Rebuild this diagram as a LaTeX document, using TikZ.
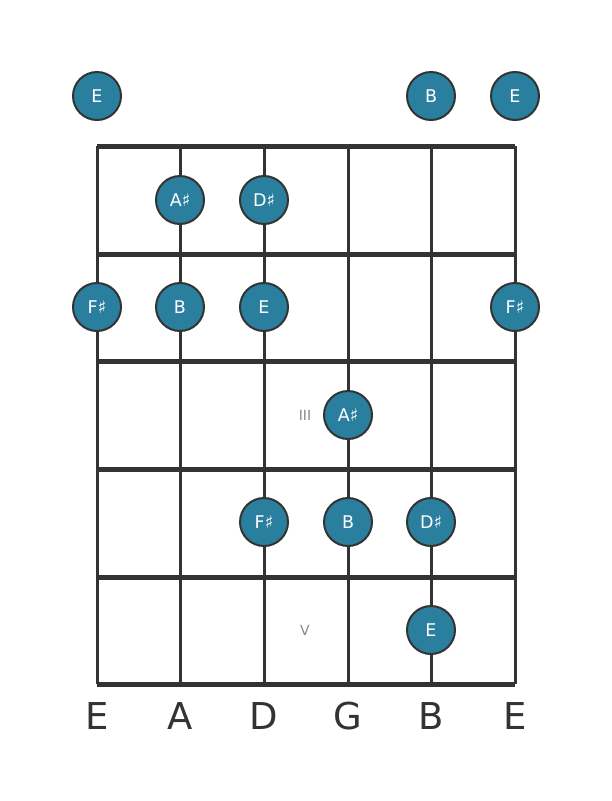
\documentclass[tikz,border=0pt]{standalone}
\usepackage{fontspec}
\setmainfont{DejaVu Sans}
\definecolor{notefill}{HTML}{2B7F9E}
\definecolor{ink}{HTML}{333333}
\definecolor{mark}{HTML}{888888}
\begin{document}
\begin{tikzpicture}[x=1pt,y=-1pt,
  stringline/.style={draw=ink,line width=3pt},
  fretline/.style={draw=ink,line width=5pt,line cap=square},
  note/.style={circle,fill=notefill,draw=ink,line width=2pt,minimum size=48pt,inner sep=0pt,text=white,font=\fontsize{17.5}{17.5}\selectfont},
  marker/.style={text=mark,font=\fontsize{14}{14}\selectfont},
  strname/.style={text=ink,font=\fontsize{37}{37}\selectfont}]
\useasboundingbox (0,0) rectangle (611,801);
% strings
\foreach \x/\n in {97/1,180/2,264/3,348/4,431/5,515/6}{
  \coordinate (t\n) at (\x,146);
  \coordinate (b\n) at (\x,684);
  \draw[stringline] (t\n) -- (b\n);
}
% frets
\foreach \y/\n in {146/0,254/1,361/2,469/3,577/4,684/5}{
  \coordinate (fl\n) at (97,\y);
  \coordinate (fr\n) at (515,\y);
  \draw[fretline] (fl\n) -- (fr\n);
}
% open notes
\node[note] (o1) at (97,96) {E};
\node[note] (o5) at (431,96) {B};
\node[note] (o6) at (515,96) {E};
% fret 1
\node[note] (n12) at (180,200) {A♯};
\node[note] (n13) at (264,200) {D♯};
% fret 2
\node[note] (n21) at (97,307) {F♯};
\node[note] (n22) at (180,307) {B};
\node[note] (n23) at (264,307) {E};
\node[note] (n26) at (515,307) {F♯};
% fret 3
\node[note] (n34) at (348,415) {A♯};
\node[marker] (m3) at (305,415) {III};
% fret 4
\node[note] (n43) at (264,522) {F♯};
\node[note] (n44) at (348,522) {B};
\node[note] (n45) at (431,522) {D♯};
% fret 5
\node[note] (n55) at (431,630) {E};
\node[marker] (m5) at (305,630) {V};
% string names
\foreach \x/\s/\n in {97/E/1,180/A/2,264/D/3,348/G/4,431/B/5,515/E/6}{
  \node[strname] (s\n) at (\x,716) {\s};
}
\end{tikzpicture}
\end{document}
